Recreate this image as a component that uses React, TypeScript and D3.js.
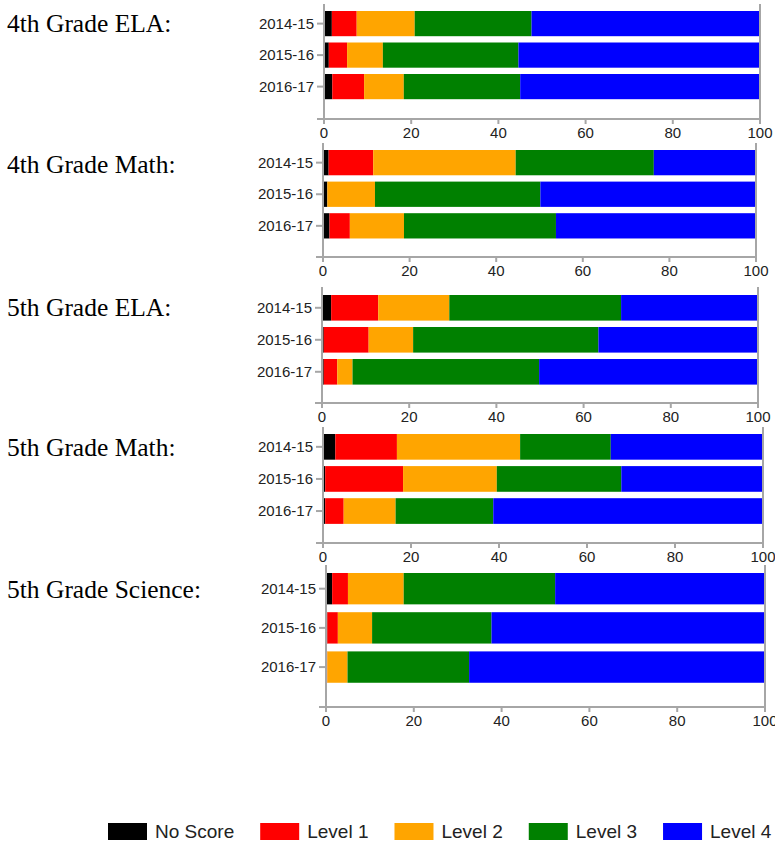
import { useEffect, useRef } from 'react'
import * as d3 from 'd3'

const YEARS = ['2014-15', '2015-16', '2016-17']
const LEVELS = ['No Score', 'Level 1', 'Level 2', 'Level 3', 'Level 4']
const COLORS = ['#000000', '#ff0000', '#ffa500', '#008000', '#0000ff']
const SUBJECTS = ['4th Grade ELA:', '4th Grade Math:', '5th Grade ELA:', '5th Grade Math:', '5th Grade Science:']
const X_TICKS = [0, 20, 40, 60, 80, 100]

// percent per level (No Score, L1, L2, L3, L4) for each year
const ELA4 = [
  [1.8, 5.7, 13.3, 26.8, 52.4],
  [1.1, 4.2, 8.2, 31.1, 55.4],
  [1.9, 7.3, 9.1, 26.7, 55.0],
]
const MATH4 = [
  [1.3, 10.3, 32.9, 31.9, 23.6],
  [1.0, 0.0, 11.0, 38.2, 49.8],
  [1.5, 4.7, 12.5, 35.1, 46.2],
]
const ELA5 = [
  [2.1, 10.8, 16.3, 39.4, 31.4],
  [0.4, 10.3, 10.2, 42.5, 36.6],
  [0.4, 3.1, 3.5, 42.8, 50.2],
]
const MATH5 = [
  [2.8, 14.0, 28.0, 20.6, 34.6],
  [0.5, 17.7, 21.3, 28.3, 32.2],
  [0.5, 4.2, 11.8, 22.2, 61.3],
]
const SCI5 = [
  [1.4, 3.6, 12.7, 34.5, 47.8],
  [0.3, 2.4, 7.8, 27.2, 62.3],
  [0.0, 0.3, 4.6, 27.7, 67.4],
]
const VALUES = [ELA4, MATH4, ELA5, MATH5, SCI5]

// layout of each little chart on the page
const LAYOUT = [
  { titleY: 32, top: 4, barTop: 11, step: 31.5, axisY: 119, x0: 324, x1: 760 },
  { titleY: 173, top: 143, barTop: 150, step: 31.6, axisY: 257, x0: 323, x1: 756 },
  { titleY: 316, top: 287, barTop: 295, step: 32, axisY: 403, x0: 322, x1: 758 },
  { titleY: 456, top: 427, barTop: 434, step: 32.1, axisY: 543, x0: 323, x1: 763 },
  { titleY: 598, top: 565, barTop: 573, step: 39.2, axisY: 707, x0: 326, x1: 765 },
]

const W = 775, H = 841
const AXIS = '#a6a6a6'
const SANS = '"Liberation Sans", Arial, sans-serif'

export default function App() {
  const svgRef = useRef<SVGSVGElement>(null)

  useEffect(() => {
    if (!svgRef.current) return
    const svg = d3.select(svgRef.current)
    svg.selectAll('*').remove()

    const stack = d3.stack<Record<string, number | string>>().keys(LEVELS)

    SUBJECTS.forEach((title, i) => {
      const L = LAYOUT[i]
      const rows = YEARS.map((y, r) => {
        const o: Record<string, number | string> = { year: y }
        LEVELS.forEach((lv, k) => { o[lv] = VALUES[i][r][k] })
        return o
      })
      const series = stack(rows as any)

      const x = d3.scaleLinear().domain([0, 100]).range([L.x0, L.x1])
      const y = d3.scaleBand<string>().domain(YEARS)
        .range([L.barTop - L.step * 0.1, L.barTop + L.step * 2.9])
        .paddingInner(0.2).paddingOuter(0.1)

      svg.append('text').attr('x', 7).attr('y', L.titleY)
        .attr('font-family', '"Liberation Serif", "Times New Roman", serif')
        .attr('font-size', 25.5).attr('fill', '#000').text(title)

      const g = svg.append('g')

      // bars
      series.forEach((s, k) => {
        g.append('g').attr('fill', COLORS[k])
          .selectAll('rect').data(s).join('rect')
          .attr('x', d => x(d[0]))
          .attr('width', d => Math.max(0, x(d[1]) - x(d[0])))
          .attr('y', d => y(String((d.data as any).year))!)
          .attr('height', y.bandwidth())
      })

      // axes lines
      g.append('line').attr('x1', L.x0).attr('x2', L.x0).attr('y1', L.top).attr('y2', L.axisY + 5)
        .attr('stroke', AXIS).attr('stroke-width', 2)
      g.append('line').attr('x1', L.x1).attr('x2', L.x1).attr('y1', L.top).attr('y2', L.axisY + 5)
        .attr('stroke', AXIS).attr('stroke-width', 2)
      g.append('line').attr('x1', L.x0 - 7).attr('x2', L.x1).attr('y1', L.axisY).attr('y2', L.axisY)
        .attr('stroke', AXIS).attr('stroke-width', 2)

      // x ticks
      X_TICKS.forEach(t => {
        g.append('line').attr('x1', x(t)).attr('x2', x(t)).attr('y1', L.axisY).attr('y2', L.axisY + 5)
          .attr('stroke', AXIS).attr('stroke-width', 2)
        g.append('text').attr('x', x(t)).attr('y', L.axisY + 19).attr('text-anchor', 'middle')
          .attr('font-family', SANS).attr('font-size', 15).attr('fill', '#222').text(String(t))
      })

      // y ticks
      YEARS.forEach(yr => {
        const cy = y(yr)! + y.bandwidth() / 2
        g.append('line').attr('x1', L.x0 - 7).attr('x2', L.x0).attr('y1', cy).attr('y2', cy)
          .attr('stroke', AXIS).attr('stroke-width', 2)
        g.append('text').attr('x', L.x0 - 10).attr('y', cy).attr('dy', '0.35em').attr('text-anchor', 'end')
          .attr('font-family', SANS).attr('font-size', 15).attr('fill', '#222').text(yr)
      })
    })

    // legend
    const lg = svg.append('g')
    let lx = 108
    LEVELS.forEach((lv, k) => {
      lg.append('rect').attr('x', lx).attr('y', 823).attr('width', 39).attr('height', 17).attr('fill', COLORS[k])
      const t = lg.append('text').attr('x', lx + 47).attr('y', 838)
        .attr('font-family', SANS).attr('font-size', 19).attr('fill', '#222').text(lv)
      const tw = (t.node() as SVGTextElement).getComputedTextLength()
      lx += 47 + tw + 26
    })

    return () => { svg.selectAll('*').remove() }
  }, [])

  return (
    <svg ref={svgRef} width={W} height={H}
      style={{ position: 'absolute', left: 0, top: 0, background: '#fff' }} />
  )
}
